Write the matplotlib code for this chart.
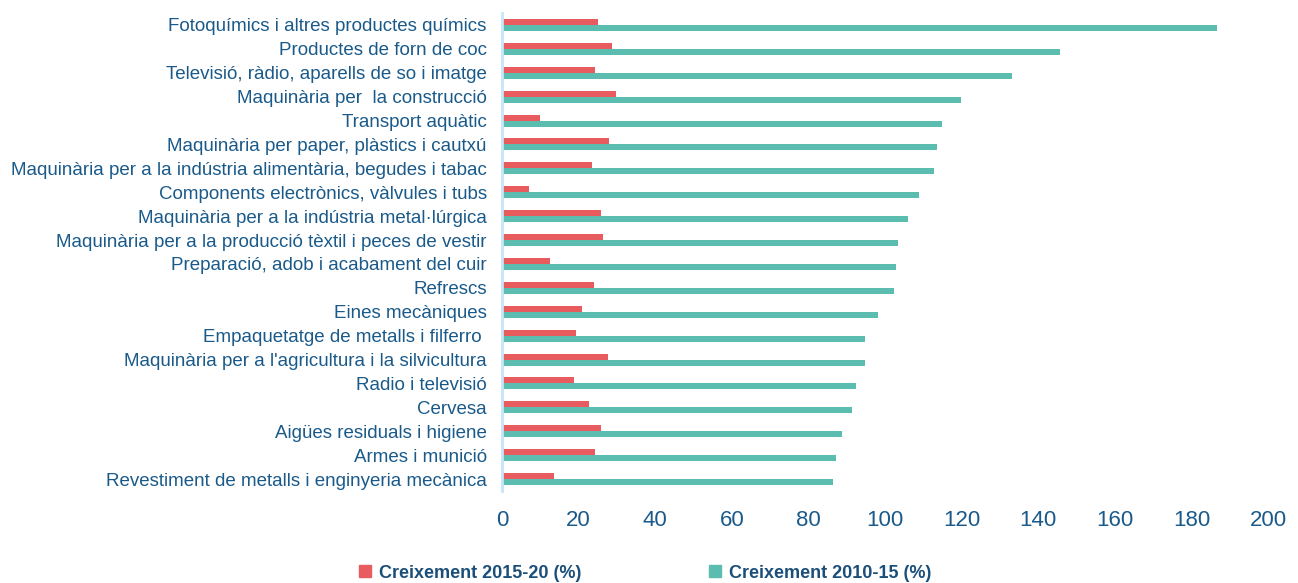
import matplotlib.pyplot as plt
import numpy as np
from matplotlib.patches import Patch

# sectors (top to bottom)
sectors = [
    "Fotoquímics i altres productes químics",
    "Productes de forn de coc",
    "Televisió, ràdio, aparells de so i imatge",
    "Maquinària per  la construcció",
    "Transport aquàtic",
    "Maquinària per paper, plàstics i cautxú",
    "Maquinària per a la indústria alimentària, begudes i tabac",
    "Components electrònics, vàlvules i tubs",
    "Maquinària per a la indústria metal·lúrgica",
    "Maquinària per a la producció tèxtil i peces de vestir",
    "Preparació, adob i acabament del cuir",
    "Refrescs",
    "Eines mecàniques",
    "Empaquetatge de metalls i filferro ",
    "Maquinària per a l'agricultura i la silvicultura",
    "Radio i televisió",
    "Cervesa",
    "Aigües residuals i higiene",
    "Armes i munició",
    "Revestiment de metalls i enginyeria mecànica",
]

creix_2015_20 = [25.1, 28.7, 24.3, 29.8, 9.9, 27.9, 23.5, 7.0, 25.8, 26.5,
                 12.5, 24.0, 20.9, 19.3, 27.7, 18.8, 22.6, 25.8, 24.2, 13.5]
creix_2010_15 = [186.6, 145.8, 133.2, 119.9, 114.8, 113.6, 112.9, 108.9, 106.1, 103.3,
                 103.0, 102.3, 98.2, 94.9, 94.7, 92.3, 91.4, 88.9, 87.3, 86.5]

xticks = [0, 20, 40, 60, 80, 100, 120, 140, 160, 180, 200]

red = "#e85c5f"
green = "#5bbcb0"
txt = "#1a5a8a"

fig = plt.figure(figsize=(12.98, 5.83), dpi=100)
ax = fig.add_axes([502/1298, 1-491/583, 766/1298, 478/583])

y = np.arange(len(sectors))
h = 0.25
ax.barh(y - h/2, creix_2015_20, height=h, color=red)
ax.barh(y + h/2, creix_2010_15, height=h, color=green)

ax.set_ylim(len(sectors) - 0.5, -0.5)
ax.set_xlim(0, 200)
ax.set_xticks(xticks)
ax.set_yticks(y)
ax.set_yticklabels(sectors, fontsize=13.5, color=txt, family="Liberation Sans")
for lab in ax.get_xticklabels():
    lab.set_family("Liberation Sans")
ax.tick_params(axis="x", length=0, pad=14, labelsize=16, labelcolor=txt)
ax.tick_params(axis="y", length=0, pad=11)

for s in ["top", "right", "bottom"]:
    ax.spines[s].set_visible(False)
ax.spines["left"].set_color("#c6e6f8")
ax.spines["left"].set_linewidth(2)

handles = [Patch(color=red, label="Creixement 2015-20 (%)"),
           Patch(color=green, label="Creixement 2010-15 (%)")]
leg = fig.legend(handles=handles, loc="center", bbox_to_anchor=(645/1298, 1-573/583),
                 ncol=2, frameon=False, handlelength=0.68, handleheight=0.68,
                 handletextpad=0.4, columnspacing=7.1,
                 prop={"family": "Liberation Sans", "weight": "bold", "size": 13})
for t in leg.get_texts():
    t.set_color("#1b4f7a")

fig.savefig("out.png", dpi=100)
